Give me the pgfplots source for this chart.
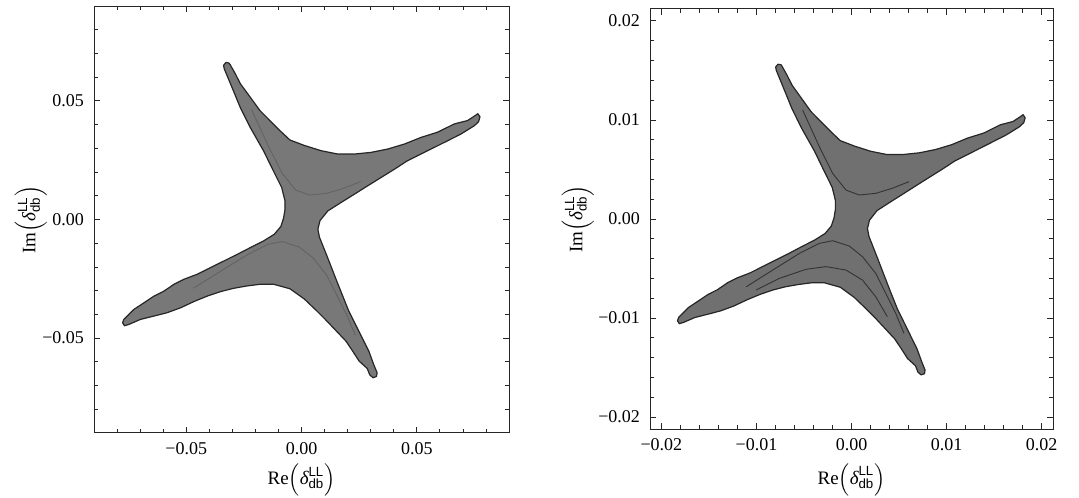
\documentclass[border=0pt]{standalone}
\usepackage{amsmath}
\usepackage{fontspec}
\setmainfont{Liberation Serif}
\setsansfont{Liberation Sans}
\usepackage{pgfplots}
\pgfplotsset{compat=1.18}

\newcommand{\dlab}[1]{#1$\left(\text{\itshape δ}^{\textsf{LL}}_{\textsf{db}}\right)$}

\pgfplotsset{
  panel/.style={
    scale only axis,
    scaled ticks=false,
    axis line style={black!85, line width=0.5pt},
    tick align=inside,
    tick pos=both,
    major tick length=3pt,
    minor tick length=1.8pt,
    every tick/.style={black!85, line width=0.4pt},
    ticklabel style={font=\fontsize{9}{10}\selectfont},
    label style={font=\fontsize{9.5}{11}\selectfont},
    xticklabel style={yshift=-1pt},
    yticklabel style={xshift=-1.5pt},
  },
  star/.style={fill=black!53, draw=black!85, line width=0.6pt, line join=round},
  inner/.style={draw=black!80, line width=0.45pt, line join=round},
}

\begin{document}
\begin{tikzpicture}
\useasboundingbox (0pt,0pt) rectangle (539.5pt,248.5pt);

% ---------------- left panel ----------------
\begin{axis}[panel,
  at={(47pt,32pt)}, anchor=south west,
  width=207.5pt, height=213.5pt,
  xmin=-0.09, xmax=0.09, ymin=-0.09, ymax=0.09,
  xtick={-0.05,0,0.05}, xticklabels={−0.05,0.00,0.05},
  ytick={-0.05,0,0.05}, yticklabels={−0.05,0.00,0.05},
  minor xtick={-0.08,-0.07,-0.06,-0.04,-0.03,-0.02,-0.01,0.01,0.02,0.03,0.04,0.06,0.07,0.08},
  minor ytick={-0.08,-0.07,-0.06,-0.04,-0.03,-0.02,-0.01,0.01,0.02,0.03,0.04,0.06,0.07,0.08},
  xlabel={\dlab{Re}}, ylabel={\dlab{Im}},
  xlabel style={at={(axis description cs:0.5,-0.11)}, anchor=center},
  ylabel style={at={(axis description cs:-0.152,0.5)}, anchor=center},
]
\addplot[star] coordinates {
(-0.0309,0.0652) (-0.0287,0.0614) (-0.0265,0.0572) (-0.0222,0.0515) (-0.0180,0.0459)
(-0.0137,0.0417) (-0.0093,0.0374) (-0.0050,0.0335) (0.0013,0.0312) (0.0085,0.0290)
(0.0157,0.0276) (0.0230,0.0276) (0.0302,0.0283) (0.0374,0.0297) (0.0446,0.0318)
(0.0518,0.0346) (0.0590,0.0368) (0.0663,0.0403) (0.0720,0.0417) (0.0750,0.0436)
(0.0765,0.0446) (0.0774,0.0433) (0.0768,0.0412) (0.0749,0.0395) (0.0691,0.0360)
(0.0634,0.0332) (0.0576,0.0304) (0.0518,0.0276) (0.0460,0.0248) (0.0403,0.0212)
(0.0345,0.0177) (0.0287,0.0142) (0.0230,0.0107) (0.0172,0.0072) (0.0114,0.0036)
(0.0080,-0.0005) (0.0071,-0.0041) (0.0078,-0.0075) (0.0090,-0.0104) (0.0119,-0.0175)
(0.0147,-0.0245) (0.0176,-0.0316) (0.0205,-0.0386) (0.0234,-0.0442) (0.0263,-0.0499)
(0.0292,-0.0555) (0.0313,-0.0611) (0.0328,-0.0646) (0.0325,-0.0662) (0.0310,-0.0667)
(0.0296,-0.0655) (0.0285,-0.0628) (0.0250,-0.0597) (0.0222,-0.0555) (0.0193,-0.0513)
(0.0152,-0.0471) (0.0110,-0.0428) (0.0067,-0.0386) (0.0012,-0.0335) (-0.0050,-0.0292)
(-0.0121,-0.0273) (-0.0178,-0.0273) (-0.0236,-0.0280) (-0.0294,-0.0290) (-0.0351,-0.0304)
(-0.0409,-0.0323) (-0.0467,-0.0346) (-0.0524,-0.0372) (-0.0583,-0.0393) (-0.0640,-0.0407)
(-0.0698,-0.0421) (-0.0748,-0.0442) (-0.0768,-0.0448) (-0.0776,-0.0435) (-0.0770,-0.0420)
(-0.0763,-0.0414) (-0.0727,-0.0379) (-0.0683,-0.0351) (-0.0640,-0.0323) (-0.0597,-0.0302)
(-0.0553,-0.0273) (-0.0510,-0.0252) (-0.0453,-0.0231) (-0.0395,-0.0203) (-0.0337,-0.0175)
(-0.0279,-0.0147) (-0.0221,-0.0118) (-0.0164,-0.0090) (-0.0118,-0.0062) (-0.0090,-0.0030)
(-0.0078,0.0005) (-0.0072,0.0040) (-0.0072,0.0080) (-0.0086,0.0135) (-0.0122,0.0205)
(-0.0165,0.0290) (-0.0223,0.0389) (-0.0266,0.0473) (-0.0302,0.0558) (-0.0335,0.0635)
(-0.0338,0.0650) (-0.0328,0.0662) (-0.0315,0.0660)
} -- cycle;
\addplot[inner, draw=black!62, line width=0.4pt] coordinates {
(-0.0469,-0.0290) (-0.0351,-0.0218) (-0.0232,-0.0147) (-0.0144,-0.0104) (-0.0084,-0.0093)
(-0.0010,-0.0116) (0.0049,-0.0161) (0.0108,-0.0233) (0.0153,-0.0318) (0.0197,-0.0404) (0.0234,-0.0489)
};
\addplot[inner, draw=black!62, line width=0.4pt] coordinates {
(-0.0218,0.0466) (-0.0144,0.0310) (-0.0084,0.0195) (-0.0025,0.0124) (0.0034,0.0103)
(0.0108,0.0110) (0.0182,0.0131) (0.0256,0.0160)
};
\end{axis}

% ---------------- right panel ----------------
\begin{axis}[panel,
  at={(325pt,34pt)}, anchor=south west,
  width=201.5pt, height=210pt,
  xmin=-0.0212, xmax=0.0212, ymin=-0.0212, ymax=0.0212,
  xtick={-0.02,-0.01,0,0.01,0.02}, xticklabels={−0.02,−0.01,0.00,0.01,0.02},
  ytick={-0.02,-0.01,0,0.01,0.02}, yticklabels={−0.02,−0.01,0.00,0.01,0.02},
  minor xtick={-0.018,-0.016,-0.014,-0.012,-0.008,-0.006,-0.004,-0.002,0.002,0.004,0.006,0.008,0.012,0.014,0.016,0.018},
  minor ytick={-0.018,-0.016,-0.014,-0.012,-0.008,-0.006,-0.004,-0.002,0.002,0.004,0.006,0.008,0.012,0.014,0.016,0.018},
  xlabel={\dlab{Re}}, ylabel={\dlab{Im}},
  xlabel style={at={(axis description cs:0.5,-0.121)}, anchor=center},
  ylabel style={at={(axis description cs:-0.179,0.5)}, anchor=center},
]
\addplot[star, fill=black!56] coordinates {
(-0.00729,0.01539) (-0.00677,0.01449) (-0.00625,0.01350) (-0.00524,0.01215) (-0.00425,0.01083)
(-0.00323,0.00984) (-0.00219,0.00883) (-0.00118,0.00791) (0.00031,0.00736) (0.00201,0.00684)
(0.00371,0.00651) (0.00543,0.00651) (0.00713,0.00668) (0.00883,0.00701) (0.01053,0.00750)
(0.01222,0.00817) (0.01392,0.00868) (0.01565,0.00951) (0.01699,0.00984) (0.01770,0.01029)
(0.01805,0.01053) (0.01827,0.01022) (0.01812,0.00972) (0.01768,0.00932) (0.01631,0.00850)
(0.01496,0.00784) (0.01359,0.00717) (0.01222,0.00651) (0.01086,0.00585) (0.00951,0.00500)
(0.00814,0.00418) (0.00677,0.00335) (0.00543,0.00253) (0.00406,0.00170) (0.00269,0.00085)
(0.00189,-0.00012) (0.00168,-0.00097) (0.00184,-0.00177) (0.00212,-0.00245) (0.00281,-0.00413)
(0.00347,-0.00578) (0.00415,-0.00746) (0.00484,-0.00911) (0.00552,-0.01043) (0.00621,-0.01178)
(0.00689,-0.01310) (0.00739,-0.01442) (0.00774,-0.01525) (0.00767,-0.01562) (0.00732,-0.01574)
(0.00699,-0.01546) (0.00673,-0.01482) (0.00590,-0.01409) (0.00524,-0.01310) (0.00455,-0.01211)
(0.00359,-0.01112) (0.00260,-0.01010) (0.00158,-0.00911) (0.00028,-0.00791) (-0.00118,-0.00689)
(-0.00286,-0.00644) (-0.00420,-0.00644) (-0.00557,-0.00661) (-0.00694,-0.00684) (-0.00828,-0.00717)
(-0.00965,-0.00762) (-0.01102,-0.00817) (-0.01237,-0.00878) (-0.01376,-0.00927) (-0.01510,-0.00961)
(-0.01647,-0.00994) (-0.01765,-0.01043) (-0.01812,-0.01057) (-0.01831,-0.01027) (-0.01817,-0.00991)
(-0.01801,-0.00977) (-0.01716,-0.00894) (-0.01612,-0.00828) (-0.01510,-0.00762) (-0.01409,-0.00713)
(-0.01305,-0.00644) (-0.01204,-0.00595) (-0.01069,-0.00545) (-0.00932,-0.00479) (-0.00795,-0.00413)
(-0.00658,-0.00347) (-0.00522,-0.00278) (-0.00387,-0.00212) (-0.00278,-0.00146) (-0.00212,-0.00071)
(-0.00184,0.00012) (-0.00170,0.00094) (-0.00170,0.00189) (-0.00203,0.00319) (-0.00288,0.00484)
(-0.00389,0.00684) (-0.00526,0.00918) (-0.00628,0.01116) (-0.00713,0.01317) (-0.00791,0.01499)
(-0.00798,0.01534) (-0.00774,0.01562) (-0.00743,0.01558)
} -- cycle;
\addplot[inner] coordinates {
(-0.00514,0.01100) (-0.00339,0.00731) (-0.00199,0.00461) (-0.00059,0.00293) (0.00080,0.00242)
(0.00255,0.00259) (0.00430,0.00310) (0.00604,0.00377)
};
\addplot[inner] coordinates {
(-0.01107,-0.00684) (-0.00828,-0.00515) (-0.00548,-0.00347) (-0.00339,-0.00246) (-0.00199,-0.00219)
(-0.00024,-0.00273) (0.00115,-0.00380) (0.00255,-0.00549) (0.00360,-0.00751) (0.00465,-0.00953) (0.00552,-0.01155)
};
\addplot[inner] coordinates {
(-0.01003,-0.00717) (-0.00758,-0.00599) (-0.00479,-0.00508) (-0.00269,-0.00481) (-0.00059,-0.00515)
(0.00115,-0.00616) (0.00255,-0.00785) (0.00377,-0.00987)
};
\end{axis}
\end{tikzpicture}
\end{document}
